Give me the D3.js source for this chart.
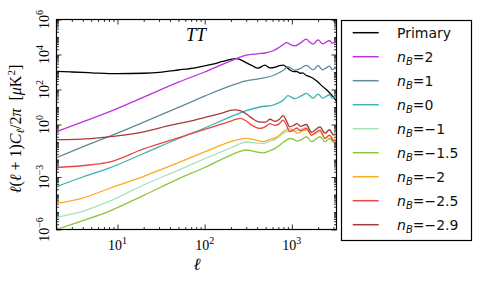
<!DOCTYPE html>
<html>
<head>
<meta charset="utf-8">
<script src="https://cdn.jsdelivr.net/npm/d3@7"></script>
<style>
  body { margin: 0; background: #fff; }
  svg { display: block; }
</style>
</head>
<body>
<div class="chart"></div>
<script>
// multipole values and D_ell = l(l+1)C_l/2pi in muK^2
var ellPrimary = [2,3,5,10,20,30,50,80,120,160,200,230,260,300,350,410,490,560,650,720,795,870,950,1050,1150,1250,1330,1450,1600,1750,2000,2260,2600,2900,3250];
var valPrimary = [1100,1000,900,800,850,950,1300,1800,2700,4000,5300,5800,5000,3400,2300,1650,2500,1700,1900,2300,2500,1900,1300,1050,1050,850,900,650,550,440,260,146,80,45,22];

var ellB2 = [2,4,8,20,50,100,200,300,400,510,600,700,800,870,950,1080,1250,1470,1600,1750,2000,2260,2500,2700,2900,3250];
var valB2 = [0.39,1.4,5.2,37,263,1000,4270,9100,11000,12600,15800,24000,38000,47900,38000,30900,44700,75900,50100,38900,69200,40700,52500,63100,44700,55000];

var ellB1 = [2,5,10,20,50,100,200,290,430,610,800,900,1080,1250,1470,1750,2000,2260,2500,2700,2900,3250];
var valB1 = [0.0126,0.083,0.32,1.35,9.5,42,166,302,417,631,1260,2000,1260,1580,2400,1320,2290,1320,1780,2140,1410,1780];

var ellB0 = [2,4,8,20,50,100,200,300,430,610,800,900,1080,1250,1470,1750,2000,2260,2500,2700,2900,3250];
var valB0 = [2.8e-4,1.0e-3,3.2e-3,0.022,0.158,0.63,2.8,6.3,10,13,25,45,30,40,60,32,55,32,42,50,32,38];

var ellLow = [2,4,8,20,50,100,200,250,300,380,470,560,650,720,800,870,950,1050,1150,1300,1470,1680,2100,2400,2700,3000,3250];
var valBm1 = [5.0e-6,1.1e-5,4.0e-5,3.5e-4,2.5e-3,0.011,0.047,0.076,0.1,0.089,0.083,0.112,0.141,0.2,0.32,0.39,0.45,0.4,0.45,0.56,0.74,0.4,0.74,0.32,0.5,0.28,0.35];
var valBm15 = [1.0e-6,3.2e-6,1.1e-5,8.9e-5,7.9e-4,3.5e-3,0.018,0.028,0.035,0.028,0.024,0.032,0.045,0.063,0.1,0.129,0.158,0.141,0.112,0.141,0.2,0.105,0.2,0.105,0.158,0.1,0.105];
var valBm2 = [3.1e-5,6.3e-5,2.2e-4,1.1e-3,6.6e-3,0.027,0.105,0.141,0.162,0.132,0.105,0.141,0.178,0.25,0.4,0.5,0.56,0.45,0.32,0.4,0.5,0.25,0.4,0.158,0.25,0.141,0.141];

var ellBm25 = [2,5,8,20,52,100,200,255,300,350,430,500,560,640,720,795,870,940,1050,1150,1250,1470,1680,2100,2400,2700,3000,3250];
var valBm25 = [3.5e-3,5.0e-3,7.1e-3,0.04,0.186,0.52,1.58,2.24,1.58,0.89,0.6,0.76,1.12,0.89,1.12,1.78,0.89,0.39,0.5,0.63,0.45,0.6,0.25,0.49,0.162,0.25,0.12,0.129];

var ellBm29 = [2,5,10,20,40,77,150,220,260,300,350,430,500,560,640,720,795,870,940,1050,1150,1250,1470,1680,2100,2400,2700,3000,3250];
var valBm29 = [0.135,0.158,0.224,0.38,0.89,1.8,4.2,6.8,6.0,4.0,2.24,1.38,1.38,2.0,1.5,2.0,3.2,1.58,0.74,0.89,1.12,0.79,1.0,0.35,0.74,0.32,0.5,0.25,0.28];

var seriesLabels = ['Primary', '2', '1', '0', '\u22121', '\u22121.5', '\u22122', '\u22122.5', '\u22122.9'];
var seriesEll = [ellPrimary, ellB2, ellB1, ellB0, ellLow, ellLow, ellLow, ellBm25, ellBm29];
var seriesVal = [valPrimary, valB2, valB1, valB0, valBm1, valBm15, valBm2, valBm25, valBm29];
var seriesColors = ['#000000', '#bb33dd', '#5f8c96', '#3cb4b0', '#a6e3b7', '#8cc63f', '#ffaa22', '#ee4444', '#a33b3b'];

var xTickValues = [10, 100, 1000], xTickExp = ['1', '2', '3'];
var yTickValues = [1e-6, 1e-3, 1, 1e2, 1e4, 1e6], yTickExp = ['\u22126', '\u22123', '0', '2', '4', '6'];

var width = 480, height = 282,
    plot = { left: 56.5, right: 336.5, top: 19.5, bottom: 229.5 },
    serif = '"Liberation Serif", "DejaVu Serif", serif',
    sans = '"DejaVu Sans", sans-serif';

var svg = d3.select('.chart').append('svg')
    .attr('width', width)
    .attr('height', height);

var x = d3.scaleLog().domain([2, 3250]).range([plot.left, plot.right]);
var y = d3.scaleLog().domain([1e-6, 1e6]).range([plot.bottom, plot.top]);

// minor tick positions
var xMinor = [], yMinor = [];
[1, 10, 100, 1000].forEach(function (d) {
    for (var k = 2; k <= 9; k++) {
        var v = d * k;
        if (v >= 2 && v <= 3250) xMinor.push(v);
    }
});
for (var e = -6; e < 6; e++) {
    for (var k = 1; k <= 9; k++) {
        var v = k * Math.pow(10, e);
        var isMajor = yTickValues.some(function (t) { return Math.abs(t / v - 1) < 1e-9; });
        if (!isMajor) yMinor.push(v);
    }
}

function drawAxis(axisFn, scale, ticks, size, tx, ty) {
    var g = svg.append('g')
        .attr('transform', 'translate(' + tx + ',' + ty + ')')
        .call(axisFn(scale).tickValues(ticks).tickSize(-size).tickSizeOuter(0).tickFormat(''));
    g.select('.domain').remove();
    g.selectAll('line').attr('stroke', '#000').attr('stroke-width', 0.8);
}

drawAxis(d3.axisBottom, x, xTickValues, 5, 0, plot.bottom);
drawAxis(d3.axisBottom, x, xMinor, 2.5, 0, plot.bottom);
drawAxis(d3.axisTop, x, xTickValues, 5, 0, plot.top);
drawAxis(d3.axisTop, x, xMinor, 2.5, 0, plot.top);
drawAxis(d3.axisLeft, y, yTickValues, 5, plot.left, 0);
drawAxis(d3.axisLeft, y, yMinor, 2.5, plot.left, 0);
drawAxis(d3.axisRight, y, yTickValues, 5, plot.right, 0);
drawAxis(d3.axisRight, y, yMinor, 2.5, plot.right, 0);

// curves, clipped to the plot box
svg.append('clipPath').attr('id', 'clip')
    .append('rect')
    .attr('x', plot.left).attr('y', plot.top)
    .attr('width', plot.right - plot.left).attr('height', plot.bottom - plot.top);

var line = d3.line()
    .x(function (d) { return x(d[0]); })
    .y(function (d) { return y(d[1]); })
    .curve(d3.curveMonotoneX);

var curves = svg.append('g').attr('clip-path', 'url(#clip)');
seriesLabels.forEach(function (name, i) {
    var pts = seriesEll[i].map(function (l, j) { return [l, seriesVal[i][j]]; });
    curves.append('path')
        .attr('d', line(pts))
        .attr('fill', 'none')
        .attr('stroke', seriesColors[i])
        .attr('stroke-width', 1.3);
});

// frame
svg.append('rect')
    .attr('x', plot.left).attr('y', plot.top)
    .attr('width', plot.right - plot.left).attr('height', plot.bottom - plot.top)
    .attr('fill', 'none').attr('stroke', '#000').attr('stroke-width', 1.2);

// x tick labels
xTickValues.forEach(function (v, i) {
    var t = svg.append('text')
        .attr('x', x(v)).attr('y', 249.5)
        .attr('text-anchor', 'middle')
        .attr('font-family', serif).attr('font-size', 14);
    t.append('tspan').text('10');
    t.append('tspan').attr('dy', -6).attr('font-size', 10).text(xTickExp[i]);
});

// y tick labels, rotated
yTickValues.forEach(function (v, i) {
    var t = svg.append('text')
        .attr('transform', 'translate(48.5,' + y(v) + ') rotate(-90)')
        .attr('text-anchor', 'middle')
        .attr('font-family', serif).attr('font-size', 14);
    t.append('tspan').text('10');
    t.append('tspan').attr('dy', -6).attr('font-size', 10).text(yTickExp[i]);
});

// axis labels
svg.append('text')
    .attr('x', 197).attr('y', 270)
    .attr('text-anchor', 'middle')
    .attr('font-family', serif).attr('font-size', 17).attr('font-style', 'italic')
    .text('\u2113');

var yl = svg.append('text')
    .attr('transform', 'translate(21,129) rotate(-90)')
    .attr('text-anchor', 'middle')
    .attr('font-family', serif).attr('font-size', 16);
yl.append('tspan').attr('font-style', 'italic').text('\u2113');
yl.append('tspan').text('(');
yl.append('tspan').attr('font-style', 'italic').text('\u2113');
yl.append('tspan').text(' + 1)');
yl.append('tspan').attr('font-style', 'italic').text('C');
yl.append('tspan').attr('font-style', 'italic').attr('font-size', 11).attr('dy', 3).text('\u2113');
yl.append('tspan').attr('dy', -3).text('/2');
yl.append('tspan').attr('font-style', 'italic').text('\u03c0');
yl.append('tspan').text('\u2002[');
yl.append('tspan').attr('font-style', 'italic').text('\u03bc');
yl.append('tspan').text('K');
yl.append('tspan').attr('font-size', 11).attr('dy', -6).text('2');
yl.append('tspan').attr('dy', 6).text(']');

// panel title
svg.append('text')
    .attr('x', 196).attr('y', 41)
    .attr('text-anchor', 'middle')
    .attr('font-family', serif).attr('font-size', 18).attr('font-style', 'italic')
    .text('TT');

// legend
var legend = svg.append('g').attr('class', 'legend');
legend.append('rect')
    .attr('x', 341.5).attr('y', 20.5)
    .attr('width', 130).attr('height', 220)
    .attr('fill', '#fff').attr('stroke', '#000').attr('stroke-width', 1.2);

seriesLabels.forEach(function (name, i) {
    var ly = 32.7 + 24 * i;
    legend.append('line')
        .attr('x1', 352.7).attr('x2', 378.7)
        .attr('y1', ly).attr('y2', ly)
        .attr('stroke', seriesColors[i]).attr('stroke-width', 1.5);
    var t = legend.append('text')
        .attr('x', 397).attr('y', ly + 5.5)
        .attr('font-family', sans).attr('font-size', 14).attr('fill', '#111');
    if (i == 0) {
        t.text(name);
    } else {
        t.append('tspan').attr('font-style', 'italic').text('n');
        t.append('tspan').attr('font-style', 'italic').attr('font-size', 10).attr('dy', 3).text('B');
        t.append('tspan').attr('dy', -3).text('=' + name);
    }
});
</script>
</body>
</html>
